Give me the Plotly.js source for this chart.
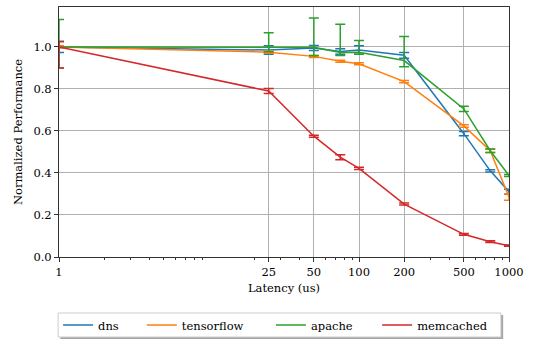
<!DOCTYPE html>
<html>
<head>
<meta charset="utf-8">
<script src="https://cdn.plot.ly/plotly-3.0.1.min.js"></script>
<style>html,body{margin:0;padding:0;background:#fff;}#chart{width:533px;height:339px;}</style>
</head>
<body>
<div id="chart"></div>
<script>
// Latency values (us)
const latency = [1, 25, 50, 75, 100, 200, 500, 750, 1000];

// Series values (normalized performance)
const dns = [1.0, 0.985, 0.995, 0.978, 0.985, 0.96, 0.587, 0.41, 0.311];
const dnsErrPlus = [0.027, 0.02, 0.012, 0.013, 0.02, 0.014, 0.01, 0.005, 0.012];
const dnsErrMinus = [0.027, 0.02, 0.012, 0.013, 0.02, 0.014, 0.01, 0.005, 0.012];

const tensorflow = [1.0, 0.975, 0.955, 0.932, 0.92, 0.835, 0.624, 0.506, 0.285];
const tensorflowErrPlus = [0.005, 0.005, 0.005, 0.005, 0.005, 0.005, 0.006, 0.008, 0.015];
const tensorflowErrMinus = [0.005, 0.005, 0.005, 0.005, 0.005, 0.005, 0.006, 0.008, 0.015];

const apache = [1.0, 0.997, 0.998, 0.973, 0.975, 0.935, 0.705, 0.506, 0.388];
const apacheErrPlus = [0.13, 0.07, 0.14, 0.135, 0.055, 0.115, 0.012, 0.008, 0.005];
const apacheErrMinus = [0.1, 0.02, 0.04, 0.014, 0.01, 0.03, 0.012, 0.008, 0.005];

const memcached = [1.0, 0.79, 0.575, 0.475, 0.422, 0.252, 0.108, 0.073, 0.054];
const memcachedErrPlus = [0.025, 0.012, 0.005, 0.012, 0.005, 0.005, 0.004, 0.004, 0.003];
const memcachedErrMinus = [0.1, 0.012, 0.005, 0.012, 0.005, 0.005, 0.004, 0.004, 0.003];

const seriesNames = ['dns', 'tensorflow', 'apache', 'memcached'];
const seriesColors = ['#1f77b4', '#ff7f0e', '#2ca02c', '#d62728'];

// Tick labels
const xTickVals = [1, 25, 50, 100, 200, 500, 1000];
const xTickText = ['1', '25', '50', '100', '200', '500', '1000'];
const xMinorTicks = [2, 3, 4, 5, 6, 7, 8, 9, 20, 30, 40, 60, 70, 80, 90, 300, 400, 600, 700, 800, 900];
const yTickVals = [0, 0.2, 0.4, 0.6, 0.8, 1.0];

const ys = [dns, tensorflow, apache, memcached];
const errsP = [dnsErrPlus, tensorflowErrPlus, apacheErrPlus, memcachedErrPlus];
const errsM = [dnsErrMinus, tensorflowErrMinus, apacheErrMinus, memcachedErrMinus];

const FONT = 'DejaVu Serif';
const legendIds = ['legend', 'legend2', 'legend3', 'legend4'];
const legendX = [-0.002, 0.184, 0.471, 0.707];

const traces = seriesNames.map((name, i) => ({
  type: 'scatter',
  mode: 'lines',
  name: name,
  legend: legendIds[i],
  x: latency,
  y: ys[i],
  line: {color: seriesColors[i], width: 1.5},
  error_y: {
    type: 'data',
    symmetric: false,
    array: errsP[i],
    arrayminus: errsM[i],
    color: seriesColors[i],
    thickness: 1.5,
    width: 5
  }
}));

const layout = {
  width: 533,
  height: 339,
  margin: {l: 59, r: 24, t: 7, b: 82, autoexpand: false},
  paper_bgcolor: '#ffffff',
  plot_bgcolor: '#ffffff',
  font: {family: FONT, size: 11.5, color: '#000'},
  showlegend: true,
  xaxis: {
    type: 'log',
    range: [0, 3],
    tickmode: 'array',
    tickvals: xTickVals,
    ticktext: xTickText,
    ticks: 'outside',
    ticklen: 4,
    tickcolor: '#333',
    showline: true,
    linecolor: '#333',
    linewidth: 1,
    mirror: true,
    showgrid: true,
    gridcolor: '#b0b0b0',
    gridwidth: 1,
    zeroline: false,
    minor: {tickmode: 'array', tickvals: xMinorTicks, ticks: 'outside', ticklen: 2, tickcolor: '#333', showgrid: false},
    title: {text: 'Latency (us)', font: {family: FONT, size: 11.5}, standoff: 6},
    tickfont: {family: FONT, size: 11.5}
  },
  yaxis: {
    range: [0, 1.19],
    tickmode: 'array',
    tickvals: yTickVals,
    tickformat: '.1f',
    ticks: 'outside',
    ticklen: 4,
    tickcolor: '#333',
    showline: true,
    linecolor: '#333',
    linewidth: 1,
    mirror: true,
    showgrid: true,
    gridcolor: '#b0b0b0',
    gridwidth: 1,
    zeroline: false,
    title: {text: 'Normalized Performance', font: {family: FONT, size: 11.5}, standoff: 8},
    tickfont: {family: FONT, size: 11.5}
  },
  shapes: [
    {type: 'rect', xref: 'paper', yref: 'paper', x0: 0.003, x1: 0.987, y0: -0.328, y1: -0.232,
     line: {width: 0}, fillcolor: 'rgba(0,0,0,0.35)', layer: 'above'},
    {type: 'rect', xref: 'paper', yref: 'paper', x0: -0.002, x1: 0.982, y0: -0.32, y1: -0.224,
     line: {width: 1, color: '#cccccc'}, fillcolor: '#ffffff', layer: 'above'}
  ]
};

legendIds.forEach((id, i) => {
  layout[id] = {
    orientation: 'h',
    x: legendX[i],
    xanchor: 'left',
    y: -0.272,
    yanchor: 'middle',
    bgcolor: 'rgba(0,0,0,0)',
    borderwidth: 0,
    font: {family: FONT, size: 11.5},
    itemwidth: 30
  };
});

Plotly.newPlot('chart', traces, layout, {displayModeBar: false, staticPlot: true});
</script>
</body>
</html>
